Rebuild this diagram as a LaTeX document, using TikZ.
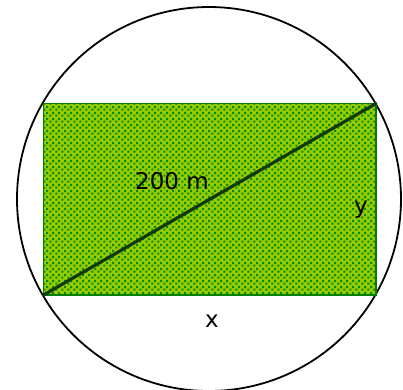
\documentclass[tikz,border=0pt]{standalone}
\usepackage{fontspec}
\setmainfont{DejaVu Sans}
\usetikzlibrary{patterns}
\definecolor{fieldbg}{HTML}{99CC00}
\definecolor{fielddot}{HTML}{008C00}
\definecolor{fieldedge}{HTML}{008000}
\definecolor{diag}{HTML}{0F3A0F}
\pgfdeclarepatternformonly{fieldsq}{\pgfpointorigin}{\pgfpoint{6.2pt}{6.2pt}}{\pgfpoint{6.2pt}{6.2pt}}{
  \pgfpathrectangle{\pgfpoint{0.4pt}{0.4pt}}{\pgfpoint{2.4pt}{2.4pt}}
  \pgfpathrectangle{\pgfpoint{3.5pt}{3.3pt}}{\pgfpoint{2.4pt}{2.4pt}}
  \pgfusepath{fill}
}
\tikzset{
  lbl/.style={font=\fontsize{23}{27}\selectfont, inner sep=0pt},
}
\begin{document}
\begin{tikzpicture}[x=1pt,y=-1pt]
\useasboundingbox (0,0) rectangle (403,389);
\begin{scope}
\clip (0,0) rectangle (403,389);
\draw[line width=1.8pt] (209,199) circle[radius=192];
\end{scope}
\coordinate (bl) at (43.5,295);
\coordinate (tr) at (376,103.5);
\fill[fieldbg] (bl) rectangle (tr);
\fill[pattern=fieldsq, pattern color=fielddot] (bl) rectangle (tr);
\draw[fieldedge, line width=1.8pt] (bl) rectangle (tr);
\draw[diag, line width=3.2pt, line cap=round] (bl) -- (tr);
\node[lbl] (d) at (172,181) {200 m};
\node[lbl, anchor=base] (y) at (361,213) {y};
\node[lbl] (x) at (212,321) {x};
\end{tikzpicture}
\end{document}
